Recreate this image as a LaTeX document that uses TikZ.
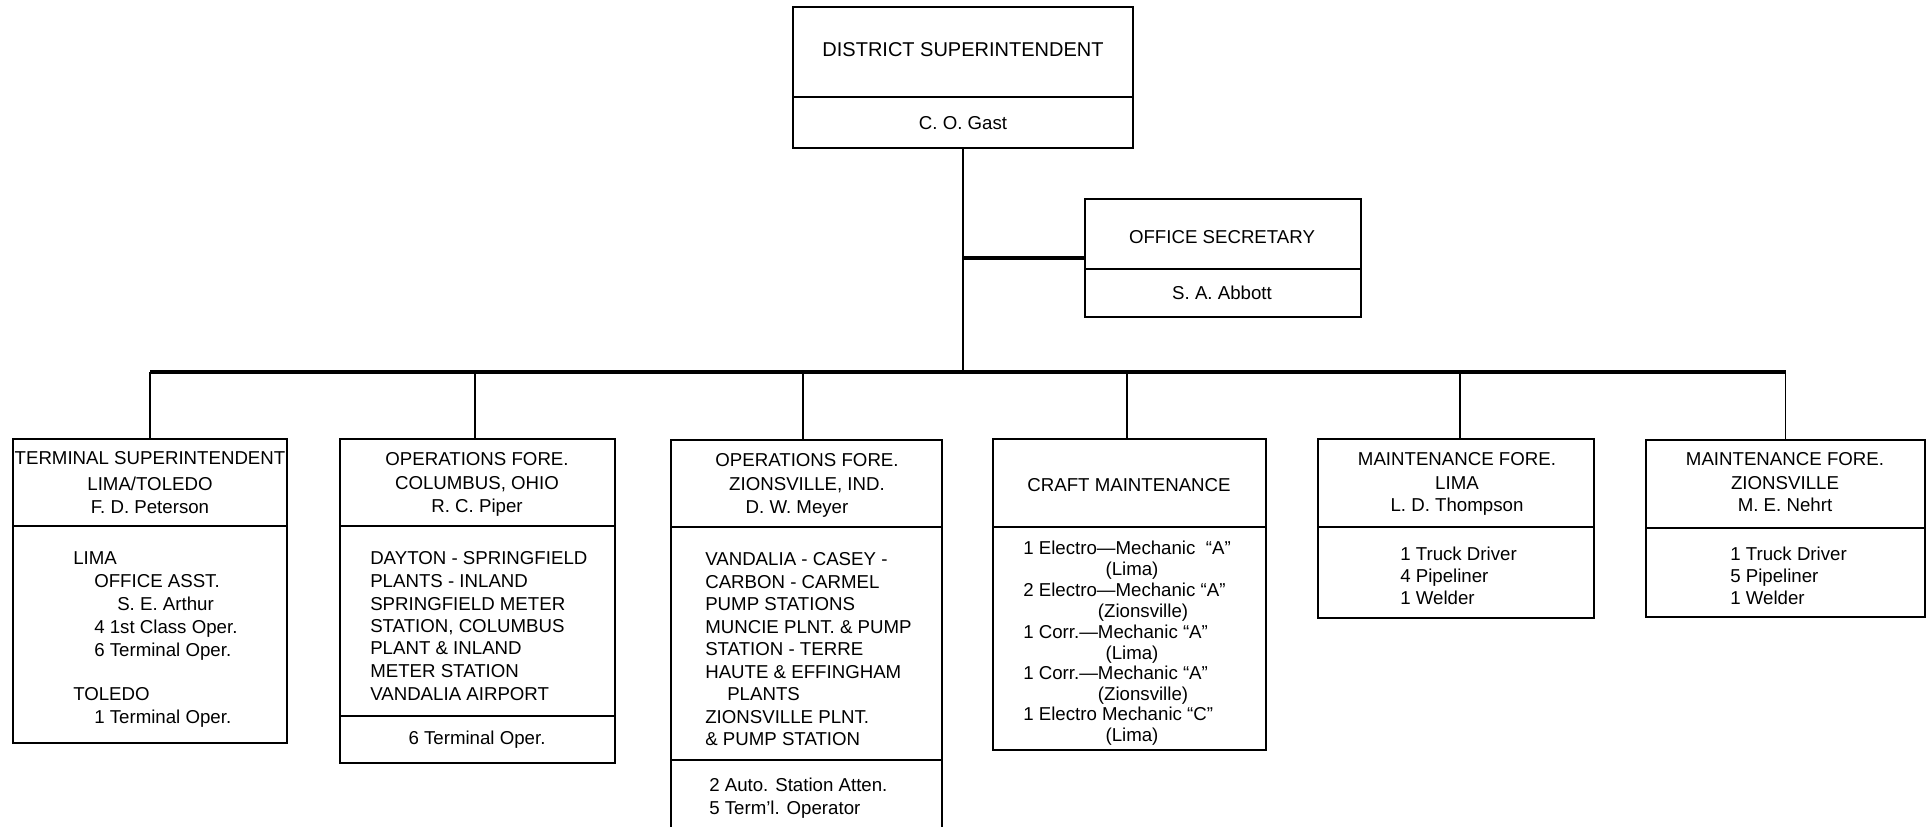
\documentclass[tikz,border=0pt]{standalone}
\usepackage{fontspec}
\setmainfont{Liberation Sans}
\usetikzlibrary{fit}
\newcommand\ltext[4]{\node[txt, anchor=base west] (#1) at (#2,#3+7) {#4};}
\newcommand\ctext[4]{\node[txt, anchor=base] (#1) at (#2,#3+7) {#4};}
\begin{document}
\begin{tikzpicture}[x=0.75pt,y=-0.75pt]
\tikzset{
  orgbox/.style={draw=black, line width=1.4pt, inner sep=0pt},
  divline/.style={black, line width=1.3pt},
  busline/.style={black, line width=2.6pt},
  trunk/.style={black, line width=1.6pt},
  dropline/.style={black, line width=1.1pt},
  txt/.style={font=\fontsize{14pt}{17pt}\selectfont, inner sep=0pt, text=black},
  bigtxt/.style={font=\fontsize{15pt}{18pt}\selectfont, inner sep=0pt, text=black},
}
\fill[white] (0,0) rectangle (1928,827);
\useasboundingbox (0,0) rectangle (1928,827);

% ---------- boxes ----------
\node[orgbox, fit={(793,7)(1133,148)}] (ds) {};
\draw[divline] (ds.west |- 0,97) -- (ds.east |- 0,97);
\node[orgbox, fit={(1085,199)(1361,317)}] (sec) {};
\draw[divline] (sec.west |- 0,269) -- (sec.east |- 0,269);

\node[orgbox, fit={(13,439)(287,743)}] (b1) {};
\draw[divline] (b1.west |- 0,526) -- (b1.east |- 0,526);
\node[orgbox, fit={(340,439)(615,763)}] (b2) {};
\draw[divline] (b2.west |- 0,526) -- (b2.east |- 0,526);
\draw[divline] (b2.west |- 0,716) -- (b2.east |- 0,716);
\node[orgbox, fit={(671,440)(942,845)}] (b3) {};
\draw[divline] (b3.west |- 0,527) -- (b3.east |- 0,527);
\draw[divline] (b3.west |- 0,760) -- (b3.east |- 0,760);
\node[orgbox, fit={(993,439)(1266,750)}] (b4) {};
\draw[divline] (b4.west |- 0,527) -- (b4.east |- 0,527);
\node[orgbox, fit={(1318,439)(1594,618)}] (b5) {};
\draw[divline] (b5.west |- 0,527) -- (b5.east |- 0,527);
\node[orgbox, fit={(1646,440)(1925,617)}] (b6) {};
\draw[divline] (b6.west |- 0,528) -- (b6.east |- 0,528);

% ---------- connectors ----------
\coordinate (busL) at (b1.north |- 0,372);
\coordinate (busR) at (b6.north |- 0,372);
\draw[trunk] (ds.south) -- (ds.south |- busL);
\draw[busline] (sec.west) -- (sec.west -| ds.south);
\draw[busline] (busL) -- (busR);
\coordinate (t2) at (475,439);
\coordinate (t3) at (803,440);
\coordinate (t4) at (1127,439);
\coordinate (t5) at (1460,439);
\draw[dropline] (b1.north |- busL) -- (b1.north);
\draw[dropline] (t2 |- busL) -- (t2 |- b2.north);
\draw[dropline] (t3 |- busL) -- (t3 |- b3.north);
\draw[dropline] (t4 |- busL) -- (t4 |- b4.north);
\draw[dropline] (t5 |- busL) -- (t5 |- b5.north);
\draw[dropline] (b6.north |- busL) -- (b6.north);

% ---------- texts ----------
\node[bigtxt, anchor=base] (dst) at (963,57) {DISTRICT SUPERINTENDENT};
\ctext{dsn}{963}{123}{C. O. Gast}
\ctext{sect}{1222}{237}{OFFICE SECRETARY}
\ctext{secn}{1222}{293}{S. A. Abbott}

% box 1
\ctext{b1a}{150}{457}{TERMINAL SUPERINTENDENT}
\ctext{b1b}{150}{483}{LIMA/TOLEDO}
\ctext{b1c}{150}{506}{F. D. Peterson}
\ltext{b1d}{73}{557}{LIMA}
\ltext{b1e}{94}{580}{OFFICE ASST.}
\ltext{b1f}{117}{603}{S. E. Arthur}
\ltext{b1g}{94}{626}{4 1st Class Oper.}
\ltext{b1h}{94}{649}{6 Terminal Oper.}
\ltext{b1i}{73}{693}{TOLEDO}
\ltext{b1j}{94}{716}{1 Terminal Oper.}

% box 2
\ctext{b2a}{477}{458}{OPERATIONS FORE.}
\ctext{b2b}{477}{482}{COLUMBUS, OHIO}
\ctext{b2c}{477}{505}{R. C. Piper}
\ltext{b2d}{370}{557}{DAYTON - SPRINGFIELD}
\ltext{b2e}{370}{580}{PLANTS - INLAND}
\ltext{b2f}{370}{603}{SPRINGFIELD METER}
\ltext{b2g}{370}{625}{STATION, COLUMBUS}
\ltext{b2h}{370}{647}{PLANT \& INLAND}
\ltext{b2i}{370}{670}{METER STATION}
\ltext{b2j}{370}{693}{VANDALIA AIRPORT}
\ctext{b2k}{477}{737}{6 Terminal Oper.}

% box 3
\ctext{b3a}{807}{459}{OPERATIONS FORE.}
\ctext{b3b}{807}{483}{ZIONSVILLE, IND.}
\ctext{b3c}{797}{506}{D. W. Meyer}
\ltext{b3d}{705}{558}{VANDALIA - CASEY -}
\ltext{b3e}{705}{581}{CARBON - CARMEL}
\ltext{b3f}{705}{603}{PUMP STATIONS}
\ltext{b3g}{705}{626}{MUNCIE PLNT. \& PUMP}
\ltext{b3h}{705}{648}{STATION - TERRE}
\ltext{b3i}{705}{671}{HAUTE \& EFFINGHAM}
\ltext{b3j}{727}{693}{PLANTS}
\ltext{b3k}{705}{716}{ZIONSVILLE PLNT.}
\ltext{b3l}{705}{738}{\& PUMP STATION}
\ltext{b3m}{709}{784}{2 Auto. Station Atten.}
\ltext{b3n}{709}{807}{5 Term'l. Operator}

% box 4
\ctext{b4a}{1129}{484}{CRAFT MAINTENANCE}
\ltext{b4b}{1023}{547}{1 Electro---Mechanic\ \ ``A''}
\ctext{b4c}{1132}{568}{(Lima)}
\ltext{b4d}{1023}{589}{2 Electro---Mechanic ``A''}
\ctext{b4e}{1143}{610}{(Zionsville)}
\ltext{b4f}{1023}{631}{1 Corr.---Mechanic ``A''}
\ctext{b4g}{1132}{652}{(Lima)}
\ltext{b4h}{1023}{672}{1 Corr.---Mechanic ``A''}
\ctext{b4i}{1143}{693}{(Zionsville)}
\ltext{b4j}{1023}{713}{1 Electro Mechanic ``C''}
\ctext{b4k}{1132}{734}{(Lima)}

% box 5
\ctext{b5a}{1457}{458}{MAINTENANCE FORE.}
\ctext{b5b}{1457}{482}{LIMA}
\ctext{b5c}{1457}{504}{L. D. Thompson}
\ltext{b5d}{1400}{553}{1 Truck Driver}
\ltext{b5e}{1400}{575}{4 Pipeliner}
\ltext{b5f}{1400}{597}{1 Welder}

% box 6
\ctext{b6a}{1785}{458}{MAINTENANCE FORE.}
\ctext{b6b}{1785}{482}{ZIONSVILLE}
\ctext{b6c}{1785}{504}{M. E. Nehrt}
\ltext{b6d}{1730}{553}{1 Truck Driver}
\ltext{b6e}{1730}{575}{5 Pipeliner}
\ltext{b6f}{1730}{597}{1 Welder}
\end{tikzpicture}
\end{document}
